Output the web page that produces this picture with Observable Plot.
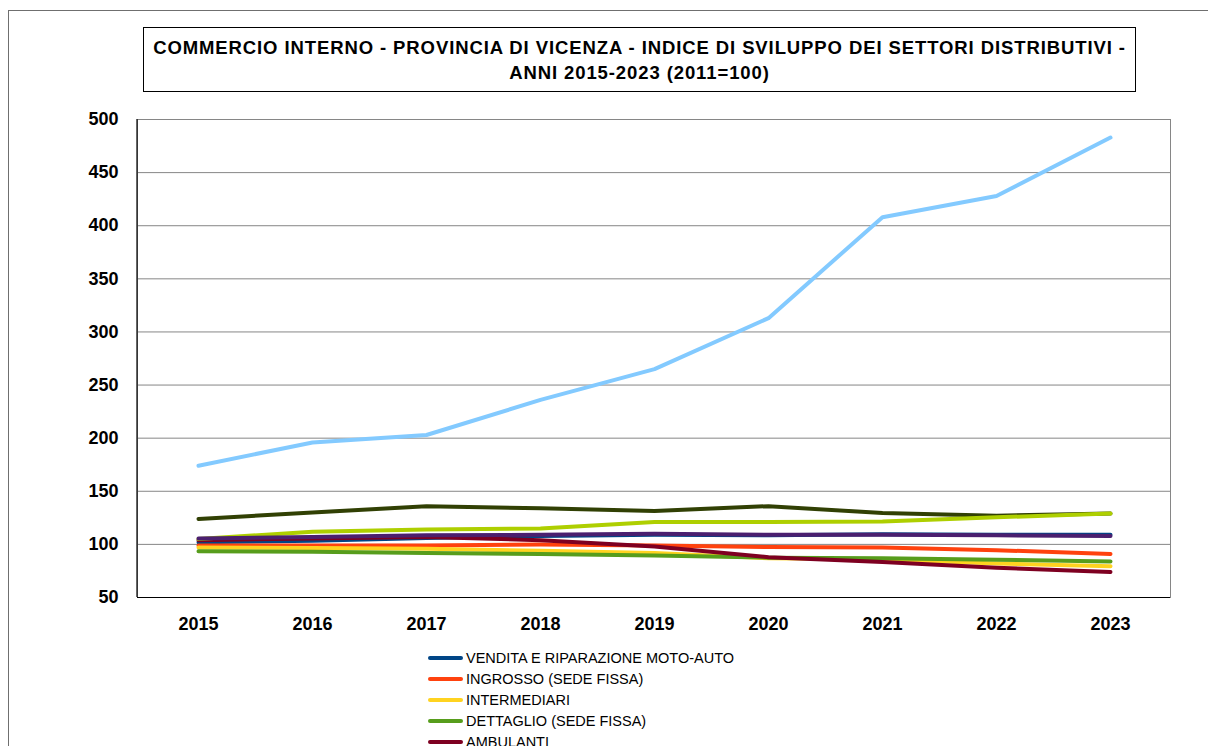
<!DOCTYPE html>
<html>
<head>
<meta charset="utf-8">
<script src="https://cdn.jsdelivr.net/npm/d3@7"></script>
<script src="https://cdn.jsdelivr.net/npm/@observablehq/plot@0.6"></script>
<style>
  html, body { margin: 0; padding: 0; background: #fff; width: 1208px; height: 746px; overflow: hidden; }
  body { position: relative; font-family: "Liberation Sans", Arial, sans-serif; }
  #outer { position: absolute; left: 8px; top: 10px; width: 1220px; height: 800px; border: 1px solid #6f6f6f; box-sizing: border-box; }
  #title { position: absolute; left: 143px; top: 27px; width: 993px; height: 65px; border: 1px solid #000; box-sizing: border-box;
           text-align: center; font-weight: bold; font-size: 18.5px; letter-spacing: 0.9px; line-height: 25px; padding-top: 7px; color: #000; }
  #chart { position: absolute; left: 0; top: 100px; }
  #legend { position: absolute; left: 428px; top: 647px; }
  .row { height: 21px; display: flex; align-items: center; font-size: 14.5px; color: #000; white-space: nowrap; }
  .sw { width: 35px; height: 4px; border-radius: 2px; margin-right: 3px; }
</style>
</head>
<body>
<div id="outer"></div>
<div id="title"></div>
<div id="chart"></div>
<div id="legend"></div>
<script>
const titleLines = [
  "COMMERCIO INTERNO - PROVINCIA DI VICENZA - INDICE DI SVILUPPO DEI SETTORI DISTRIBUTIVI -",
  "ANNI 2015-2023 (2011=100)"
];
const years = [2015, 2016, 2017, 2018, 2019, 2020, 2021, 2022, 2023];
const yTicks = [50, 100, 150, 200, 250, 300, 350, 400, 450, 500];

// legend labels visible in the reference (the rest of the legend is cut off below the picture)
const legendLabels = [
  "VENDITA E RIPARAZIONE MOTO-AUTO",
  "INGROSSO (SEDE FISSA)",
  "INTERMEDIARI",
  "DETTAGLIO (SEDE FISSA)",
  "AMBULANTI"
];
const seriesKeys = ["s1", "s2", "s3", "s4", "s5", "s6", "s7", "s8", "s9"];
const seriesColors = ["#004586", "#ff420e", "#ffd320", "#579d1c", "#7e0021", "#83caff", "#314004", "#aecf00", "#4b1f6f"];

const venditaMoto   = [102, 103.5, 106, 108, 109, 108.5, 109.5, 109, 109];
const ingrosso      = [99, 99, 99, 100, 99, 97.5, 97, 94.5, 91];
const intermediari  = [97, 96.5, 96, 94, 92, 87, 86, 82, 79.5];
const dettaglio     = [93.5, 93, 92, 91, 89.5, 87.5, 87, 85.5, 84];
const ambulanti     = [104, 105.5, 107, 104, 98, 88, 83.5, 78, 74];
const serie6        = [174, 196, 203, 236, 265, 313, 408, 428, 483];
const serie7        = [124, 130, 136, 134, 131.5, 136, 129.5, 127, 129];
const serie8        = [105, 112, 114, 115, 121, 121, 121.5, 125.5, 129];
const serie9        = [105.5, 107, 108.5, 109, 110, 109, 109, 108.5, 108];

const seriesValues = [venditaMoto, ingrosso, intermediari, dettaglio, ambulanti, serie6, serie7, serie8, serie9];

const rows = [];
seriesKeys.forEach((k, i) => {
  years.forEach((yr, j) => rows.push({ key: k, order: i, year: yr, value: seriesValues[i][j] }));
});

document.getElementById("title").innerHTML = titleLines.map(t => `<div>${t}</div>`).join("");

const lineMarks = seriesKeys.map((k, i) =>
  Plot.line(rows.filter(r => r.key === k), {
    x: "year", y: "value", stroke: seriesColors[i], strokeWidth: 4,
    strokeLinejoin: "round", strokeLinecap: "round"
  })
);

const chart = Plot.plot({
  width: 1208,
  height: 550,
  marginLeft: 137,
  marginRight: 38,
  marginTop: 19,
  marginBottom: 53,
  style: { fontFamily: "'Liberation Sans', Arial, sans-serif", background: "transparent", color: "#000", overflow: "visible" },
  x: { type: "point", domain: years, padding: 0.5 },
  y: { domain: [50, 500] },
  marks: [
    Plot.ruleY(yTicks, { stroke: "#868686", strokeWidth: 1 }),
    Plot.frame({ stroke: "#868686", strokeWidth: 1 }),
    ...lineMarks,
    Plot.ruleY([50], { stroke: "#000", strokeWidth: 1.2 }),
    Plot.axisX({ tickSize: 0, tickPadding: 20, fontSize: 18, fontWeight: "bold", tickFormat: d => String(d), label: null }),
    Plot.axisY({ ticks: yTicks, tickSize: 0, tickPadding: 19, fontSize: 18, fontWeight: "bold", label: null })
  ]
});
document.getElementById("chart").appendChild(chart);

// black left axis line, placed from the chart's own scale ranges
const xr = chart.scale("x").range;
const yr = chart.scale("y").range;
d3.select(chart).append("line")
  .attr("x1", xr[0]).attr("x2", xr[0])
  .attr("y1", yr[0]).attr("y2", yr[1])
  .attr("stroke", "#000").attr("stroke-width", 1.2);

const leg = document.getElementById("legend");
legendLabels.forEach((lab, i) => {
  const r = document.createElement("div");
  r.className = "row";
  r.innerHTML = `<span class="sw" style="background:${seriesColors[i]}"></span><span>${lab}</span>`;
  leg.appendChild(r);
});
</script>
</body>
</html>
